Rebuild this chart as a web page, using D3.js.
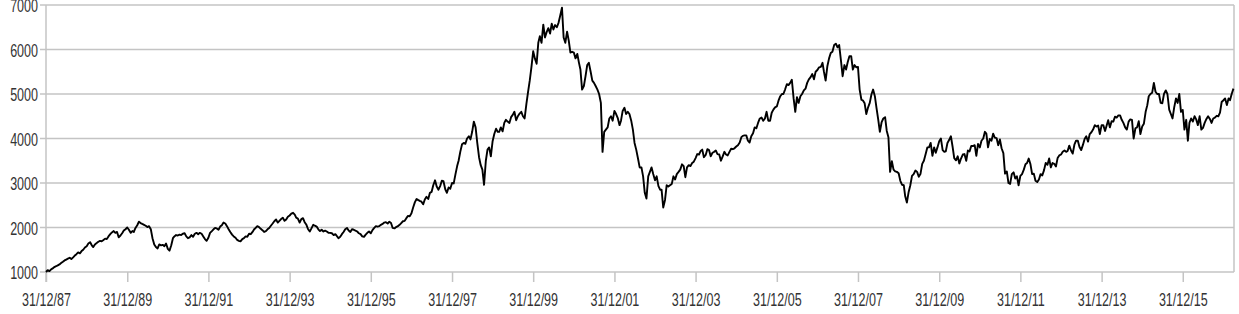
<!DOCTYPE html>
<html>
<head>
<meta charset="utf-8">
<script src="https://cdn.jsdelivr.net/npm/d3@7"></script>
<style>
  html, body { margin: 0; padding: 0; background: #fff; }
  svg { display: block; }
  text { font-family: "Liberation Sans", Arial, sans-serif; fill: #333; }
</style>
</head>
<body>
<svg id="chart" width="1239" height="314"></svg>
<script>
// ---- data (CAC 40, semi-monthly: 15th and month end) ----
const startDate = "1987-12-31";
const startValue = 1000;
const closes = [
  // 1988
  1040,1020,1060,1080,1110,1130,1150,1170,1200,1230,1260,1280,1300,1320,1290,1330,1370,1400,1440,1420,1470,1500,1550,1580,
  // 1989
  1640,1670,1600,1560,1620,1650,1680,1700,1690,1720,1750,1740,1800,1850,1890,1920,1880,1900,1780,1820,1870,1930,1960,2000,
  // 1990
  1950,1880,1920,1900,1990,2050,2130,2100,2080,2060,2040,2010,2030,1960,1760,1620,1560,1530,1620,1600,1610,1580,1640,1520,
  // 1991
  1480,1600,1760,1800,1830,1820,1840,1830,1860,1870,1800,1760,1780,1830,1790,1860,1880,1850,1880,1860,1800,1740,1700,1770,
  // 1992
  1880,1920,1960,1990,1980,1950,2020,2050,2110,2090,2030,1960,1900,1840,1800,1770,1720,1700,1690,1740,1760,1800,1790,1860,
  // 1993
  1850,1900,1960,1990,2030,2010,1970,1940,1900,1920,1960,1990,2040,2090,2140,2180,2110,2150,2190,2220,2150,2180,2240,2270,
  // 1994
  2310,2330,2290,2220,2200,2110,2190,2210,2120,2060,1960,1910,1980,2060,2040,2020,1960,1920,1950,1910,1930,1910,1880,1880,
  // 1995
  1870,1830,1850,1810,1760,1790,1850,1900,1960,1990,1930,1900,1960,1950,1930,1910,1870,1850,1800,1790,1840,1880,1910,1870,
  // 1996
  1940,1990,2030,2020,2030,2060,2080,2110,2120,2090,2130,2100,1990,1980,2010,2030,2060,2100,2140,2150,2210,2260,2250,2320,
  // 1997
  2450,2570,2640,2620,2600,2580,2520,2630,2690,2640,2780,2800,2950,3060,2920,2850,2930,3050,3040,2860,2780,2900,2870,3000,
  // 1998
  2990,3200,3380,3500,3700,3870,3900,3880,4000,4050,3980,4150,4380,4250,3900,3580,3400,3300,2960,3500,3750,3800,3600,3940,
  // 1999
  4100,4220,4150,4150,4250,4160,4350,4420,4380,4350,4480,4530,4600,4410,4500,4560,4600,4500,4450,4780,5050,5300,5600,5960,
  // 2000
  5800,5680,6150,6300,6150,6560,6270,6390,6480,6360,6580,6450,6550,6500,6600,6770,6940,6270,6150,6400,6200,5930,5950,5930,
  // 2001
  5800,5900,5700,5550,5100,5180,5400,5650,5700,5500,5300,5250,5180,5100,5000,4800,3700,4150,4200,4250,4450,4500,4400,4620,
  // 2002
  4550,4450,4300,4400,4620,4690,4550,4600,4550,4400,4200,3900,3750,3550,3350,3350,3150,2780,2650,3150,3250,3350,3200,3060,
  // 2003
  3150,2930,2850,2850,2450,2620,2950,2920,2950,2980,3150,3080,3200,3250,3300,3420,3380,3130,3350,3400,3380,3450,3480,3560,
  // 2004
  3650,3640,3720,3750,3580,3630,3760,3740,3600,3680,3700,3730,3650,3640,3500,3600,3700,3640,3620,3700,3770,3760,3780,3820,
  // 2005
  3850,3910,4030,4060,4070,4070,3950,3910,4050,4120,4250,4230,4350,4450,4470,4400,4450,4600,4400,4400,4580,4650,4700,4720,
  // 2006
  4850,4950,5000,5000,5100,5220,5200,5250,5320,4900,4600,4930,4800,4950,5000,5080,5120,5250,5330,5380,5450,5330,5500,5540,
  // 2007
  5600,5610,5700,5500,5300,5630,5800,5920,5950,6100,6130,6050,6100,5750,5400,5650,5550,5720,5850,5850,5550,5650,5600,5610,
  // 2008
  5100,4870,4850,4790,4550,4700,4800,4990,5100,4950,4680,4430,4150,4370,4450,4480,4170,4030,3250,3490,3300,3260,3250,3220,
  // 2009
  3050,2960,2950,2700,2560,2800,2950,3160,3200,3280,3250,3140,3200,3430,3500,3650,3800,3800,3900,3610,3800,3680,3800,3940,
  // 2010
  4000,3740,3700,3710,3900,3970,4050,3820,3560,3510,3600,3440,3550,3640,3650,3500,3730,3710,3830,3830,3850,3610,3880,3800,
  // 2011
  3950,4000,4150,4110,3800,3990,3950,4110,4020,4010,3850,3980,3780,3670,3210,3260,3000,2980,3200,3240,3100,3150,2950,3160,
  // 2012
  3200,3300,3420,3450,3550,3420,3200,3210,3050,3020,3080,3200,3170,3290,3450,3410,3550,3350,3450,3430,3370,3560,3620,3640,
  // 2013
  3700,3730,3700,3720,3840,3730,3660,3860,3950,3950,3810,3740,3850,3990,4050,3930,4100,4140,4200,4300,4270,4290,4100,4300,
  // 2014
  4300,4170,4300,4410,4250,4390,4380,4490,4470,4520,4520,4420,4350,4250,4200,4380,4430,4420,4000,4230,4250,4390,4100,4270,
  // 2015
  4330,4600,4750,4950,5000,5030,5250,5050,5000,5000,4800,4790,5000,5080,5000,4650,4550,4450,4700,4900,4800,5000,4600,4640,
  // 2016
  4200,4420,3950,4350,4450,4380,4500,4430,4300,4500,4200,4240,4350,4440,4500,4440,4350,4450,4470,4510,4500,4580,4820,4860,
  // 2017
  4900,4750,4900,4860,5000,5120
];
const xEnd = "2017-04-05";
const xTickDates = ["1987-12-31","1989-12-31","1991-12-31","1993-12-31","1995-12-31","1997-12-31","1999-12-31",
  "2001-12-31","2003-12-31","2005-12-31","2007-12-31","2009-12-31","2011-12-31","2013-12-31","2015-12-31"];
const yTicks = [1000, 2000, 3000, 4000, 5000, 6000, 7000];

// ---- build the dated series (15th and last day of each month) ----
const parse = d3.timeParse("%Y-%m-%d");
const series = [{ date: parse(startDate), value: startValue }];
closes.forEach((v, i) => {
  const year = 1988 + Math.floor(i / 24);
  const month = Math.floor((i % 24) / 2);
  const date = (i % 2 === 0) ? new Date(year, month, 15) : new Date(year, month + 1, 0);
  series.push({ date, value: v });
});

// ---- layout ----
const svg = d3.select("#chart");
const plotL = 46, plotR = 1234, plotT = 5, plotB = 272;
const sx = 0.66; // horizontal condensation of labels

const x = d3.scaleTime().domain([parse(startDate), parse(xEnd)]).range([plotL, plotR]);
const y = d3.scaleLinear().domain([1000, 7000]).range([plotB, plotT]);

// gridlines
svg.append("g").selectAll("line").data(yTicks).join("line")
  .attr("x1", plotL - 6).attr("x2", plotR)
  .attr("y1", d => y(d)).attr("y2", d => y(d))
  .attr("stroke", "#c4c4c4").attr("stroke-width", 1.5);

// left axis line and right border
svg.append("line").attr("x1", plotL).attr("x2", plotL).attr("y1", plotT).attr("y2", plotB + 10)
  .attr("stroke", "#c4c4c4").attr("stroke-width", 1.5);
svg.append("line").attr("x1", plotR).attr("x2", plotR).attr("y1", plotT).attr("y2", plotB)
  .attr("stroke", "#c4c4c4").attr("stroke-width", 1.5);

// y axis labels
const yAxis = svg.append("g").attr("transform", `translate(${plotL},0)`)
  .call(d3.axisLeft(y).tickValues(yTicks).tickSize(0).tickPadding(0).tickFormat(d3.format("d")));
yAxis.select(".domain").remove();
yAxis.selectAll("text")
  .attr("x", -8 / sx).attr("dy", "0.35em")
  .attr("transform", `scale(${sx},1)`)
  .style("font-size", "19px").style("fill", "#333");

// x axis ticks and labels
const xAxis = svg.append("g").attr("transform", `translate(0,${plotB})`)
  .call(d3.axisBottom(x).tickValues(xTickDates.map(parse)).tickSize(10).tickFormat(d3.timeFormat("%d/%m/%y")));
xAxis.select(".domain").remove();
xAxis.selectAll("line").attr("stroke", "#c4c4c4").attr("stroke-width", 1.5);
xAxis.selectAll("text")
  .attr("y", 21).attr("dy", "0.71em")
  .attr("transform", `scale(${sx},1)`)
  .style("font-size", "19px").style("fill", "#333");

// line
svg.append("path").datum(series)
  .attr("fill", "none").attr("stroke", "#000").attr("stroke-width", 1.9)
  .attr("stroke-linejoin", "round")
  .attr("d", d3.line().x(d => x(d.date)).y(d => y(d.value)));
</script>
</body>
</html>
